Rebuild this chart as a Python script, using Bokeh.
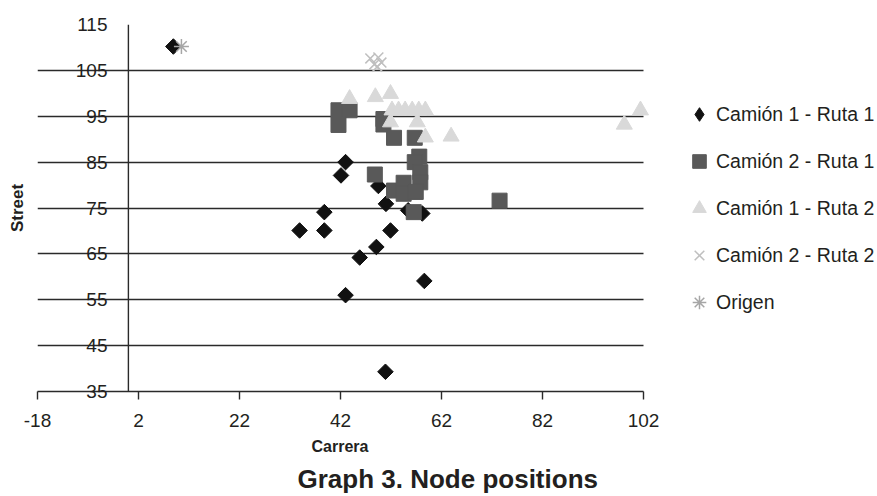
import math
from bokeh.plotting import figure
from bokeh.models import (Range1d, FixedTicker, Span, Legend, LegendItem, LinearAxis, Title)
from bokeh.embed import file_html
from bokeh.resources import INLINE

# ---------------- data ----------------
c1r1_x = [8.9, 43.0, 42.1, 49.5, 51.0, 38.8, 33.9, 38.8, 51.9, 49.1, 45.8, 58.2, 55.4, 58.6, 43.0, 50.9]
c1r1_y = [110.2, 85.0, 82.1, 79.8, 75.9, 74.1, 70.1, 70.1, 70.1, 66.5, 64.2, 73.8, 74.5, 59.1, 56.0, 39.3]

c2r1_x = [41.6, 43.8, 41.6, 50.5, 50.5, 52.6, 56.7, 57.6, 56.7, 57.8, 57.8, 48.8, 52.6, 54.5, 54.5, 56.9, 56.5, 73.5]
c2r1_y = [96.3, 96.3, 93.1, 94.4, 93.2, 90.3, 90.3, 86.2, 85.0, 82.8, 80.6, 82.3, 78.8, 80.5, 78.1, 78.5, 74.1, 76.6]

c1r2_x = [43.8, 48.9, 51.9, 52.2, 53.5, 54.8, 56.2, 57.5, 58.8, 51.9, 57.2, 58.8, 63.9, 98.2, 101.4]
c1r2_y = [98.8, 99.2, 99.9, 96.3, 96.3, 96.3, 96.3, 96.3, 96.3, 93.7, 93.7, 90.4, 90.6, 93.2, 96.3]

c2r2_x = [47.9, 49.5, 50.1, 48.7, 49.3]
c2r2_y = [107.6, 107.8, 106.7, 106.3, 105.8]

orig_x = [10.5]
orig_y = [110.2]

x_ticks = [-18, 2, 22, 42, 62, 82, 102]
x_tick_labels = [str(v) for v in x_ticks]
y_ticks = [35, 45, 55, 65, 75, 85, 95, 105, 115]

labels = ["Camión 1 - Ruta 1", "Camión 2 - Ruta 1", "Camión 1 - Ruta 2", "Camión 2 - Ruta 2", "Origen"]
x_title = "Carrera"
y_title = "Street"
title_text = "Graph 3. Node positions"

# ---------------- figure ----------------
FONT = "Liberation Sans"
INK = "#231f20"
LINE = "#2a2a2a"

X0, X1 = x_ticks[0], x_ticks[-1]
FRAME_W = 877 - 37            # plot area runs to the right edge; legend lives inside it
PX_PER_UNIT = 606 / (X1 - X0)  # the axis itself spans 606 px
x_end = X0 + FRAME_W / PX_PER_UNIT

p = figure(width=877, height=496, output_backend="svg", toolbar_location=None,
           x_range=Range1d(X0, x_end), y_range=Range1d(y_ticks[0], y_ticks[-1]),
           x_axis_location=None, y_axis_location=None,
           min_border_left=37, min_border_right=0, min_border_top=24, min_border_bottom=105)
p.outline_line_color = None
p.background_fill_color = "white"
p.border_fill_color = "white"

# y axis: labels pushed into the plot so they sit left of the x=0 axis line
ya = LinearAxis(ticker=FixedTicker(ticks=y_ticks, minor_ticks=[]))
ya.axis_line_color = None
ya.major_tick_line_color = None
ya.minor_tick_line_color = None
ya.major_tick_out = 0
ya.major_tick_in = 0
ya.major_label_standoff = -70
ya.major_label_text_font = FONT
ya.major_label_text_font_size = "19px"
ya.major_label_text_color = INK
ya.axis_label = y_title
ya.axis_label_text_font = FONT
ya.axis_label_text_font_style = "bold"
ya.axis_label_text_font_size = "17px"
ya.axis_label_text_color = INK
ya.axis_label_standoff = 46
p.add_layout(ya, "left")

# x axis, limited to the data range -18..102
xa = LinearAxis(ticker=FixedTicker(ticks=x_ticks, minor_ticks=[]), bounds=(X0, X1))
xa.major_label_overrides = dict(zip(x_ticks, x_tick_labels))
xa.axis_line_color = LINE
xa.axis_line_width = 1.6
xa.major_tick_line_color = LINE
xa.major_tick_line_width = 1.4
xa.major_tick_out = 8
xa.major_tick_in = 0
xa.minor_tick_line_color = None
xa.major_label_standoff = 14
xa.major_label_text_font = FONT
xa.major_label_text_font_size = "19px"
xa.major_label_text_color = INK
p.add_layout(xa, "below")

p.add_layout(Title(text=x_title, align="left", offset=274, standoff=13,
                   text_font=FONT, text_font_style="bold", text_font_size="16px",
                   text_color=INK), "below")
p.add_layout(Title(text=title_text, align="left", offset=260, standoff=0,
                   text_font=FONT, text_font_style="bold", text_font_size="26px",
                   text_color=INK), "below")

# horizontal grid lines, limited to the axis range
p.xgrid.visible = False
yg = p.ygrid[0]
yg.ticker = FixedTicker(ticks=y_ticks, minor_ticks=[])
if "cross_bounds" in yg.properties():
    yg.cross_bounds = (X0, X1)
    yg.grid_line_color = LINE
    yg.grid_line_width = 1.6
else:
    yg.visible = False
    p.segment(x0=[X0] * len(y_ticks), x1=[X1] * len(y_ticks), y0=y_ticks, y1=y_ticks,
              line_color=LINE, line_width=1.6)

p.add_layout(Span(location=0, dimension="height", line_color=LINE, line_width=1.4))

# ---------------- series ----------------
r1 = p.scatter(c1r1_x, c1r1_y, marker="square", size=11, angle=math.pi / 4,
               fill_color="#111111", line_color="#111111")
r2 = p.scatter(c2r1_x, c2r1_y, marker="square", size=15,
               fill_color="#595959", line_color="#595959")
r3 = p.scatter(c1r2_x, c1r2_y, marker="triangle", size=16,
               fill_color="#d9d9d9", line_color="#d9d9d9")
r4 = p.scatter(c2r2_x, c2r2_y, marker="x", size=14,
               line_color="#bfbfbf", line_width=1.5)
r5 = p.scatter(orig_x, orig_y, marker="asterisk", size=15,
               line_color="#a6a6a6", line_width=1.5)

# legend swatch for the diamond series (the legend does not rotate markers)
r1_key = p.scatter([-1000], [-1000], marker="diamond", size=14,
                   fill_color="#111111", line_color="#111111")

legend = Legend(items=[LegendItem(label=l, renderers=[r]) for l, r in
                       zip(labels, [r1_key, r2, r3, r4, r5])],
                location=(645, 72), orientation="vertical", margin=0, padding=0,
                spacing=13, glyph_width=34, glyph_height=34, label_standoff=0,
                label_text_font=FONT, label_text_font_size="19.5px", label_text_color=INK,
                border_line_color=None, background_fill_alpha=0)
p.add_layout(legend, "center")

open("out.html", "w").write(file_html(p, INLINE))
